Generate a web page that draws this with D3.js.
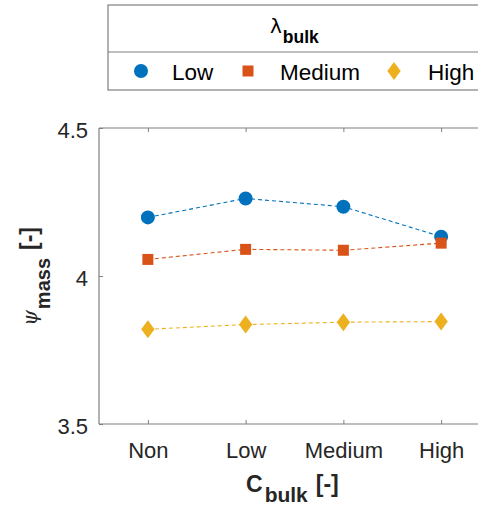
<!DOCTYPE html>
<html><head><meta charset="utf-8">
<script src="https://cdn.jsdelivr.net/npm/d3@7"></script>
<style>body{margin:0;background:#fff}svg{display:block}text{font-family:"Liberation Sans",Arial,sans-serif}</style>
</head><body>
<svg id="c" width="478" height="506"></svg>
<script>
const categories = ["Non","Low","Medium","High"];
const seriesNames = ["Low","Medium","High"];
const lowValues = [4.198, 4.262, 4.234, 4.133];
const mediumValues = [4.056, 4.090, 4.087, 4.111];
const highValues = [3.820, 3.836, 3.844, 3.846];
const yTicks = [3.5, 4, 4.5];
const colors = ["#0072BD","#D95319","#EDB120"];

const diamond = { draw(ctx, size) { const w = Math.sqrt(size / 2.7), h = w * 1.35; ctx.moveTo(0,-h); ctx.lineTo(w,0); ctx.lineTo(0,h); ctx.lineTo(-w,0); ctx.closePath(); } };
const shapes = [d3.symbolCircle, d3.symbolSquare, diamond];
const sizes = [154, 121, 121];

const svg = d3.select("#c");
const pL = 99, pT = 128, pB = 424, pR = 490;
const x = d3.scaleLinear().domain([0.5, 4.5]).range([pL, pR]);
const y = d3.scaleLinear().domain([3.5, 4.5]).range([pB, pT]);
const axisCol = "#262626";
const frameCol = "#7f7f7f";

// axes frame
svg.append("line").attr("x1",pL).attr("x2",pR).attr("y1",pT).attr("y2",pT).attr("stroke",frameCol).attr("stroke-width",1.2);
svg.append("line").attr("x1",pL).attr("x2",pR).attr("y1",pB).attr("y2",pB).attr("stroke",frameCol).attr("stroke-width",1.2);
svg.append("line").attr("x1",pL).attr("x2",pL).attr("y1",pT).attr("y2",pB).attr("stroke",frameCol).attr("stroke-width",1.2);

const xa = d3.axisBottom(x).tickValues([1,2,3,4]).tickFormat((d)=>categories[d-1]).tickSizeInner(-4).tickSizeOuter(0).tickPadding(18);
const gx = svg.append("g").attr("transform",`translate(0,${pB})`).call(xa);
gx.select(".domain").remove();
gx.selectAll("line").attr("stroke",frameCol);
gx.selectAll("text").attr("font-size",22).attr("fill",axisCol);

const xaTop = d3.axisTop(x).tickValues([1,2,3,4]).tickFormat("").tickSizeInner(-4).tickSizeOuter(0);
const gxt = svg.append("g").attr("transform",`translate(0,${pT})`).call(xaTop);
gxt.select(".domain").remove();
gxt.selectAll("line").attr("stroke",frameCol);

const ya = d3.axisLeft(y).tickValues(yTicks).tickFormat(d3.format("")).tickSizeInner(-4).tickSizeOuter(0).tickPadding(11);
const gy = svg.append("g").attr("transform",`translate(${pL},0)`).call(ya);
gy.select(".domain").remove();
gy.selectAll("line").attr("stroke",frameCol);
gy.selectAll("text").attr("font-size",22).attr("fill",axisCol).attr("dy","0.45em");

// series
const all = [lowValues, mediumValues, highValues];
const line = d3.line().x((d,i)=>x(i+1)).y(d=>y(d));
all.forEach((vals, s) => {
  svg.append("path").attr("d", line(vals)).attr("fill","none").attr("stroke",colors[s]).attr("stroke-width",1.1).attr("stroke-dasharray","4,3");
  svg.selectAll(null).data(vals).enter().append("path")
    .attr("d", d3.symbol().type(shapes[s]).size(sizes[s]))
    .attr("transform",(d,i)=>`translate(${x(i+1)},${y(d)})`)
    .attr("fill",colors[s]);
});

// axis labels
const xl = svg.append("text").attr("x",246).attr("y",492).attr("fill",axisCol).attr("font-weight","bold").attr("font-size",23);
xl.append("tspan").text("C");
xl.append("tspan").text("bulk").attr("font-size",21).attr("dy",10).attr("dx",2);
xl.append("tspan").text("[-]").attr("dy",-10).attr("dx",8);

const yl = svg.append("text").attr("transform","translate(37,227) rotate(-90)").attr("text-anchor","end").attr("fill",axisCol).attr("font-size",23);
yl.append("tspan").text("ψ").attr("font-style","italic").attr("font-family","DejaVu Serif").attr("font-size",20);
yl.append("tspan").text("mass").attr("font-weight","bold").attr("font-size",20).attr("dy",13).attr("dx",1);
yl.append("tspan").text("[-]").attr("font-weight","bold").attr("dy",-13).attr("dx",8);

// legend
const lg = svg.append("g");
lg.append("rect").attr("x",108).attr("y",5).attr("width",380).attr("height",85).attr("fill","#fff").attr("stroke",frameCol).attr("stroke-width",1.2);
lg.append("line").attr("x1",108).attr("x2",488).attr("y1",52).attr("y2",52).attr("stroke",frameCol).attr("stroke-width",1.2);
const lt = lg.append("text").attr("x",270).attr("y",33).attr("fill","#000").attr("font-size",20);
lt.append("tspan").text("λ").attr("font-family","DejaVu Sans");
lt.append("tspan").text("bulk").attr("font-weight","bold").attr("font-size",17.5).attr("dy",10).attr("dx",1);
const legX = [141, 248, 394];
const legTX = [172, 280, 428];
seriesNames.forEach((n,s)=>{
  lg.append("path").attr("d", d3.symbol().type(shapes[s]).size(sizes[s])).attr("transform",`translate(${legX[s]},71)`).attr("fill",colors[s]);
  lg.append("text").attr("x",legTX[s]).attr("y",80).attr("font-size",22.5).attr("fill","#000").text(n);
});
</script>
</body></html>
